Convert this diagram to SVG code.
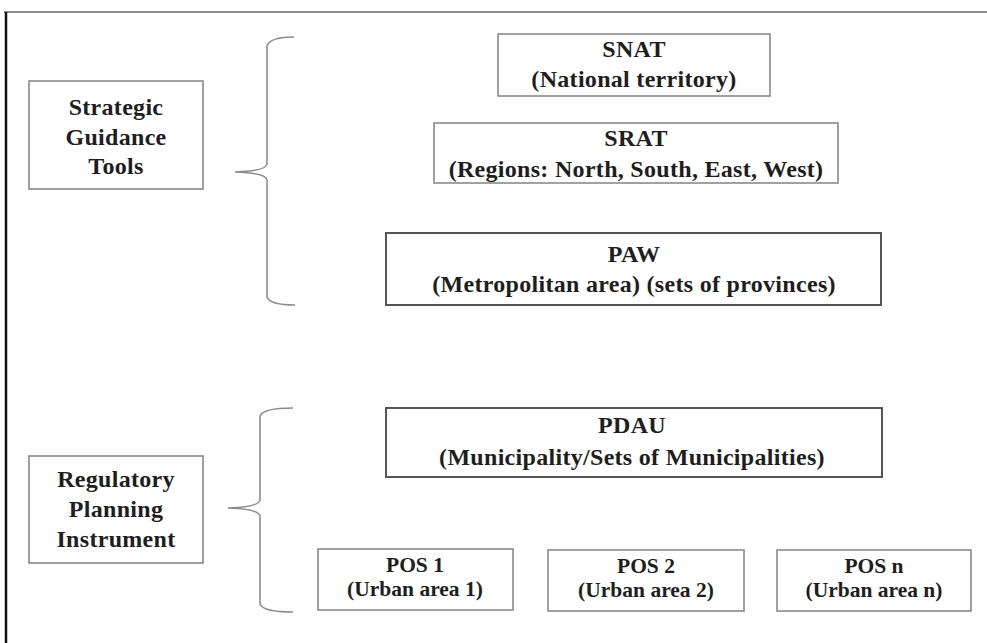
<svg xmlns="http://www.w3.org/2000/svg" width="987" height="643" viewBox="0 0 987 643">
<style>
.box{fill:#fff;stroke:#8a8a8a;stroke-width:1.6}
.dark{stroke:#555;stroke-width:2}
text{font-family:'Liberation Serif','Times New Roman',serif;font-weight:bold;font-size:24px;letter-spacing:0.3px;fill:#1e1e1e;text-anchor:middle}
.s{font-size:21.5px;letter-spacing:0}
.brace{fill:none;stroke:#8c8c8c;stroke-width:1.6}
</style>
<rect width="987" height="643" fill="#fff"/>
<line x1="4" y1="12" x2="987" y2="12" stroke="#6a6a6a" stroke-width="1.5"/>
<line x1="6" y1="12" x2="6" y2="643" stroke="#111" stroke-width="2.5"/>

<g id="strategic">
<rect class="box" x="29" y="81" width="174" height="108"/>
<text x="116" y="115">Strategic</text>
<text x="116" y="145">Guidance</text>
<text x="116" y="174">Tools</text>
</g>

<g id="regulatory">
<rect class="box" x="29" y="456" width="174" height="107"/>
<text x="116" y="487">Regulatory</text>
<text x="116" y="517">Planning</text>
<text x="116" y="547">Instrument</text>
</g>

<g id="snat">
<rect class="box" x="498" y="34" width="272" height="62"/>
<text x="634" y="57">SNAT</text>
<text x="634" y="87">(National territory)</text>
</g>

<g id="srat">
<rect class="box" x="434" y="123" width="404" height="60"/>
<text x="636" y="146">SRAT</text>
<text x="636" y="177">(Regions: North, South, East, West)</text>
</g>

<g id="paw">
<rect class="box dark" x="386" y="233" width="495" height="72"/>
<text x="634" y="262">PAW</text>
<text x="634" y="292">(Metropolitan area) (sets of provinces)</text>
</g>

<g id="pdau">
<rect class="box dark" x="386" y="408" width="496" height="69"/>
<text x="632" y="433">PDAU</text>
<text x="632" y="465">(Municipality/Sets of Municipalities)</text>
</g>

<g id="pos1">
<rect class="box" x="318" y="549" width="195" height="61"/>
<text class="s" x="415" y="572">POS 1</text>
<text class="s" x="415" y="596">(Urban area 1)</text>
</g>

<g id="pos2">
<rect class="box" x="548" y="550" width="196" height="61"/>
<text class="s" x="646" y="573">POS 2</text>
<text class="s" x="646" y="597">(Urban area 2)</text>
</g>

<g id="posn">
<rect class="box" x="777" y="550" width="194" height="61"/>
<text class="s" x="874" y="573">POS n</text>
<text class="s" x="874" y="597">(Urban area n)</text>
</g>

<g id="connectors">
<path class="brace" d="M294,37 Q270,37 267,46 L267,164 Q266,171 235,172 Q266,173 267,180 L267,297 Q270,305 295,305"/>
<path class="brace" d="M293,408 Q263,408 260,416 L260,500 Q259,507 228,508 Q259,509 260,516 L260,604 Q263,612 293,612"/>
</g>
</svg>
